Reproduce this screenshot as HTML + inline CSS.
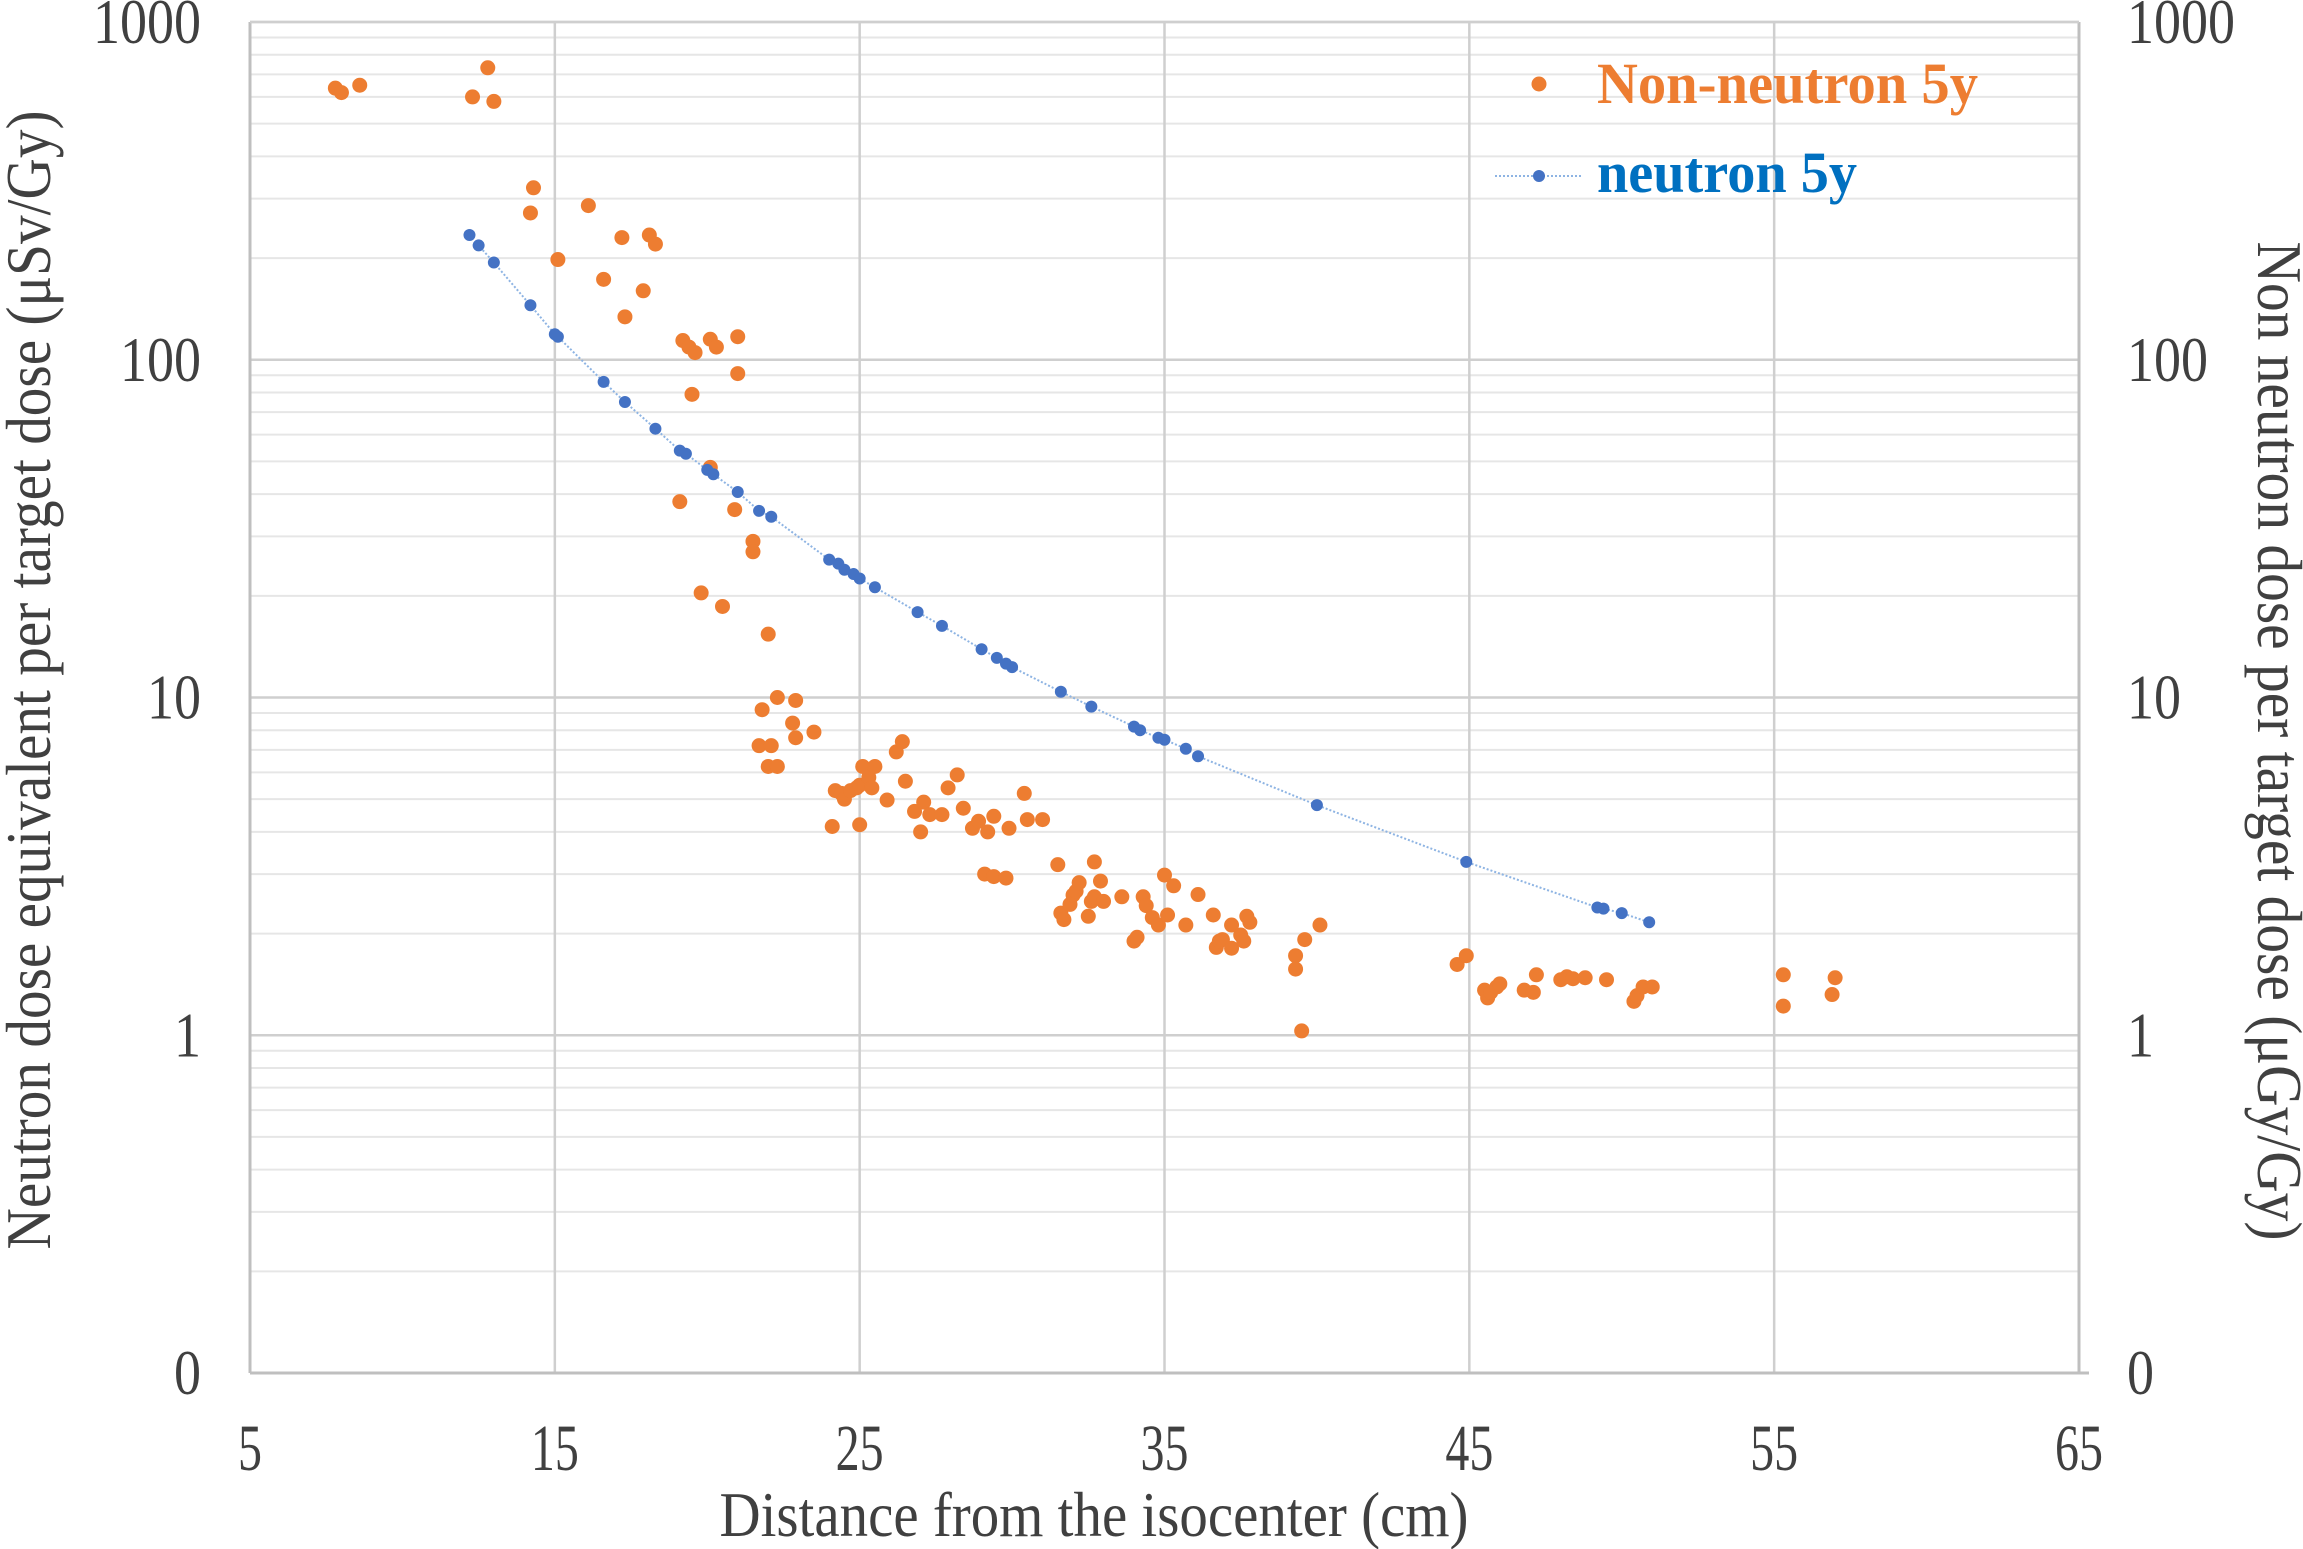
<!DOCTYPE html>
<html><head><meta charset="utf-8"><style>
html,body{margin:0;padding:0;background:#fff;}
svg{display:block;font-family:"Liberation Serif",serif;}
</style></head><body>
<svg id="chart" width="2303" height="1549" viewBox="0 0 2303 1549" xmlns="http://www.w3.org/2000/svg">
<g id="grid"></g>
<g id="axes"></g>
<g id="series"></g>
<text x="1094" y="1536" text-anchor="middle" font-size="64" fill="#404040" textLength="749" lengthAdjust="spacingAndGlyphs">Distance from the isocenter (cm)</text>
<text transform="translate(50,680) rotate(-90)" text-anchor="middle" font-size="64" fill="#404040" textLength="1139" lengthAdjust="spacingAndGlyphs">Neutron dose equivalent  per target dose (μSv/Gy)</text>
<text transform="translate(2258,741) rotate(90)" text-anchor="middle" font-size="64" fill="#404040" textLength="999" lengthAdjust="spacingAndGlyphs">Non neutron dose per target dose (μGy/Gy)</text>
<g>
<circle cx="1539" cy="84" r="7.5" fill="#ED7D31"/>
<text x="1597" y="103" font-size="58" font-weight="bold" fill="#ED7D31" textLength="381" lengthAdjust="spacingAndGlyphs">Non-neutron 5y</text>
<line x1="1495" y1="176" x2="1582" y2="176" stroke="#8EB4E3" stroke-width="2" stroke-dasharray="2,2"/>
<circle cx="1539" cy="176" r="6" fill="#4472C4"/>
<text x="1597" y="192" font-size="58" font-weight="bold" fill="#0070C0" textLength="260" lengthAdjust="spacingAndGlyphs">neutron 5y</text>
</g>
</svg>
<script>
const xTicks = [5,15,25,35,45,55,65];
const yTicks = [0.1,1,10,100,1000];
const yTickLabels = ["0","1","10","100","1000"];
const nonNeutronX = [7.8,8.0,8.6,12.3,12.8,13.0,14.2,14.3,15.1,16.1,16.6,17.2,17.3,17.9,18.1,18.3,19.2,19.4,19.6,19.5,20.1,20.3,21.0,21.0,20.1,19.1,19.8,20.5,20.9,21.5,21.5,22.0,22.3,22.9,21.7,22.1,22.0,22.3,22.8,22.9,23.5,21.8,24.2,24.4,24.5,24.7,24.9,25.0,25.1,25.3,25.5,25.4,25.0,24.1,25.9,26.2,26.4,26.5,26.8,27.1,27.0,27.3,27.7,27.9,28.2,28.4,28.7,28.9,29.2,29.4,29.9,30.4,30.5,31.0,29.1,29.4,29.8,31.5,31.6,31.7,31.9,32.0,32.1,32.2,32.5,32.6,32.7,32.7,32.9,33.0,33.6,34.0,34.1,34.3,34.4,34.6,34.8,35.0,35.1,35.3,35.7,36.1,36.6,36.7,36.8,36.9,37.2,37.2,37.5,37.6,37.7,37.8,39.3,39.3,39.5,39.6,40.1,44.6,44.9,45.5,45.6,45.7,45.9,46.0,46.8,47.1,47.2,48.0,48.2,48.4,48.8,49.5,50.4,50.5,50.7,51.0,55.3,55.3,56.9,57.0];
const nonNeutronY = [637,618,650,600,732,582,272,323,198,286,173,230,134,160,234,220,114,109,105,79,115,109,117,91,48,38,20.4,18.6,36,29,27,15.4,10,9.8,7.2,7.2,6.25,6.25,8.4,7.6,7.9,9.2,5.3,5.2,5.0,5.3,5.4,5.5,6.25,5.8,6.25,5.4,4.2,4.15,4.97,6.9,7.4,5.65,4.6,4.9,4.0,4.5,4.5,5.4,5.9,4.7,4.1,4.3,4.0,4.45,4.1,5.2,4.35,4.35,3.0,2.95,2.92,3.2,2.3,2.2,2.44,2.6,2.67,2.83,2.25,2.49,2.57,3.26,2.86,2.49,2.57,1.9,1.95,2.57,2.42,2.23,2.12,2.98,2.27,2.77,2.12,2.61,2.27,1.82,1.9,1.92,2.12,1.81,1.98,1.9,2.25,2.16,1.72,1.57,1.03,1.92,2.12,1.62,1.72,1.36,1.29,1.34,1.39,1.42,1.36,1.34,1.51,1.46,1.49,1.47,1.48,1.46,1.26,1.31,1.39,1.39,1.51,1.22,1.32,1.48];
const neutronX = [12.2,12.5,13.0,14.2,15.0,15.1,16.6,17.3,18.3,19.1,19.3,20.0,20.2,21.0,21.7,22.1,24.0,24.3,24.5,24.8,25.0,25.5,26.9,27.7,29.0,29.5,29.8,30.0,31.6,32.6,34.0,34.2,34.8,35.0,35.7,36.1,40.0,44.9,49.2,49.4,50.0,50.9];
const neutronY = [234,218,194,145,119,117,86,75,62.5,53.8,52.7,47.2,45.8,40.6,35.7,34.3,25.6,24.9,23.9,23.2,22.5,21.2,17.9,16.3,13.9,13.1,12.6,12.3,10.4,9.4,8.2,8.0,7.6,7.5,7.05,6.7,4.8,3.26,2.39,2.37,2.30,2.16];

const L=250,R=2079,T=22,B=1373;
const NS="http://www.w3.org/2000/svg";
function xs(v){return L+(v-5)/60*(R-L);}
function ys(v){return B-(Math.log10(v)+1)/4*(B-T);}
function mk(tag,attrs,parent){const e=document.createElementNS(NS,tag);for(const k in attrs)e.setAttribute(k,attrs[k]);parent.appendChild(e);return e;}
const grid=document.getElementById('grid'),axes=document.getElementById('axes'),series=document.getElementById('series');
for(let d=-1;d<3;d++){for(let m=2;m<=9;m++){const y=ys(m*Math.pow(10,d));
const ln=mk('line',{x1:L,x2:R,y1:y,y2:y,stroke:'#e6e6e6','stroke-width':2},grid);

}}
yTicks.forEach((t,i)=>{const y=ys(t);
if(i>0){const ln=mk('line',{x1:L,x2:R,y1:y,y2:y,stroke:'#cfcfcf','stroke-width':2.5},grid);

}
const lt=mk('text',{x:201,y:y+21,'text-anchor':'end','font-size':64,fill:'#404040',textLength:yTickLabels[i].length*27,lengthAdjust:'spacingAndGlyphs'},axes);lt.textContent=yTickLabels[i];


const rt=mk('text',{x:2127,y:y+21,'font-size':64,fill:'#404040',textLength:yTickLabels[i].length*27,lengthAdjust:'spacingAndGlyphs'},axes);rt.textContent=yTickLabels[i];

});
xTicks.forEach(t=>{const x=xs(t);
if(t>5&&t<65){const ln=mk('line',{x1:x,x2:x,y1:T,y2:B,stroke:'#cfcfcf','stroke-width':2.5},grid);

}
const tx=mk('text',{x:x,y:1470,'text-anchor':'middle','font-size':66,fill:'#404040',textLength:String(t).length*24,lengthAdjust:'spacingAndGlyphs'},axes);tx.textContent=t;

});
const al=mk('line',{x1:L,x2:L,y1:T,y2:B,stroke:'#bfbfbf','stroke-width':3},axes);


const ar=mk('line',{x1:R,x2:R,y1:T,y2:B,stroke:'#bfbfbf','stroke-width':3},axes);


const at=mk('line',{x1:L,x2:R,y1:T,y2:T,stroke:'#cfcfcf','stroke-width':2.5},axes);


const ab=mk('line',{x1:L,x2:R+10,y1:B,y2:B,stroke:'#bfbfbf','stroke-width':3},axes);


const pts=neutronX.map((x,i)=>xs(x)+','+ys(neutronY[i])).join(' ');
const pl=mk('polyline',{points:pts,fill:'none',stroke:'#8EB4E3','stroke-width':2,'stroke-dasharray':'2,2'},series);


nonNeutronX.forEach((x,i)=>{const c=mk('circle',{cx:xs(x),cy:ys(nonNeutronY[i]),r:7.5,fill:'#ED7D31'},series);

});
neutronX.forEach((x,i)=>{const c=mk('circle',{cx:xs(x),cy:ys(neutronY[i]),r:6,fill:'#4472C4'},series);

});
</script>
</body></html>
